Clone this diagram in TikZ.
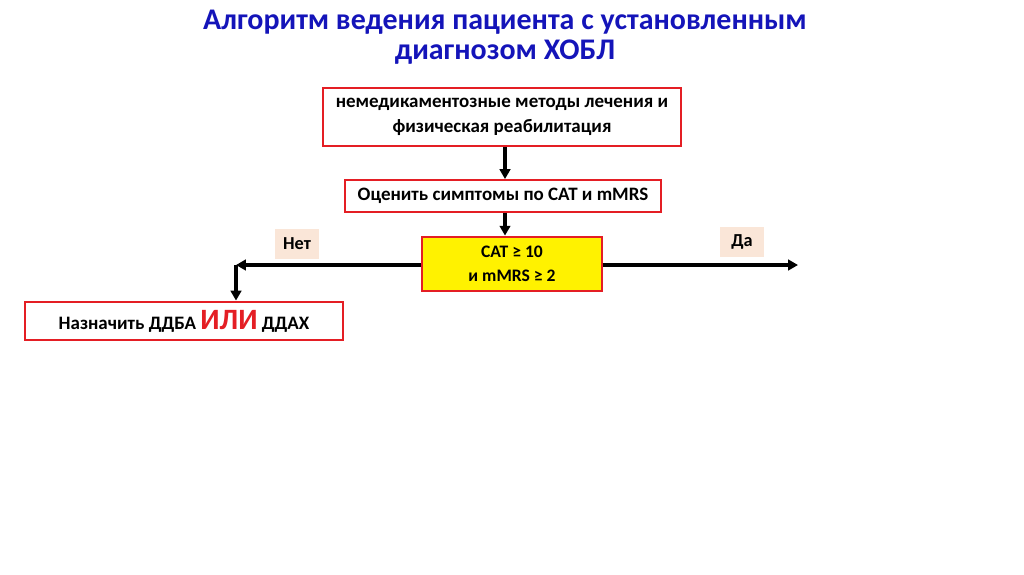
\documentclass[tikz,border=0pt]{standalone}
\usepackage{fontspec}
\setmainfont{Carlito}
\usepackage{xcolor}
\usetikzlibrary{positioning,arrows.meta}

\definecolor{titleblue}{RGB}{20,20,185}
\definecolor{boxred}{RGB}{228,30,36}
\definecolor{tagpeach}{RGB}{250,230,216}

\begin{document}
\begin{tikzpicture}[
    x=0.025cm, y=-0.025cm,
    box/.style={rectangle, draw=boxred, line width=1.4pt, fill=white, align=center, inner sep=0pt, font=\fontsize{13.5}{17.5}\selectfont\bfseries},
    decision/.style={box, fill=yellow},
    tag/.style={rectangle, fill=tagpeach, inner sep=0pt, minimum width=31pt, minimum height=21pt, font=\fontsize{13}{16}\selectfont\bfseries},
    arrow/.style={-{Triangle[length=7pt,width=7.5pt]}, line width=2.2pt}
  ]
  \useasboundingbox (0,0) rectangle (1024,574);

  % Title
  \node[font=\fontsize{21.3}{21.5}\selectfont\bfseries, text=titleblue, align=center] (title) at (505,37)
    {Алгоритм ведения пациента с установленным\\диагнозом ХОБЛ};

  % Boxes
  \node[box, minimum width=360*0.709pt, minimum height=58*0.709pt] (nonmed) at (502,117)
    {немедикаментозные методы лечения и\\физическая реабилитация};
  \node[box, minimum width=317*0.709pt, minimum height=32*0.709pt] (assess) at (503,196)
    {Оценить симптомы по CAT и mMRS};
  \node[decision, minimum width=180*0.709pt, minimum height=55*0.709pt, font=\fontsize{12.5}{17}\selectfont\bfseries] (crit) at (512,264)
    {CAT ≥ 10\\ и mMRS ≥ 2};
  \node[box, minimum width=319*0.709pt, minimum height=39*0.709pt] (treat) at (184,321)
    {Назначить ДДБА {\textcolor{boxred}{\fontsize{21}{21}\selectfont ИЛИ}} ДДАХ};

  % Labels
  \node[tag] (no) at (297,244) {Нет};
  \node[tag] (yes) at (742,242) {Да};

  % Connector ends
  \coordinate (turn) at (236,265);
  \coordinate (yesend) at (798,265);

  % Arrows
  \draw[arrow] (nonmed.south -| 505,0) -- (assess.north -| 505,0);
  \draw[arrow] (assess.south -| 505,0) -- (crit.north -| 505,0);
  \draw[arrow] (crit.west |- turn) -- (turn);
  \draw[arrow] (turn) -- (treat.north -| turn);
  \draw[arrow] (crit.east |- yesend) -- (yesend);
\end{tikzpicture}
\end{document}
